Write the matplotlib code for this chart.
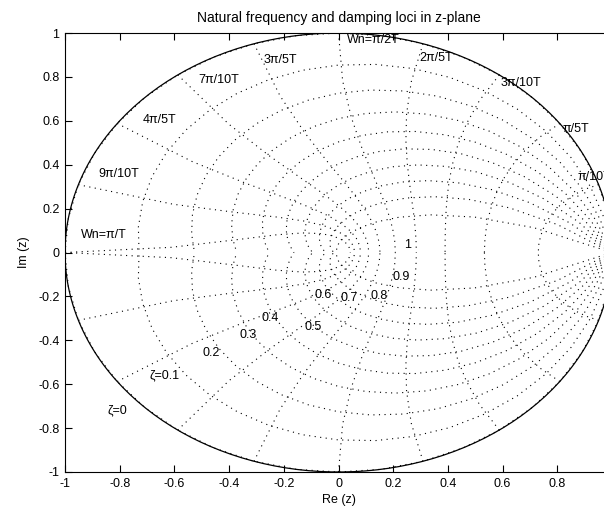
import numpy as np
import matplotlib.pyplot as plt

plt.rcParams['font.family'] = ['Liberation Sans', 'DejaVu Sans']
plt.rcParams['axes.unicode_minus'] = False

# damping ratios and natural frequencies (multiples of pi/T) of the grid
zeta = [0.0, 0.1, 0.2, 0.3, 0.4, 0.5, 0.6, 0.7, 0.8, 0.9]
wn = [0.1, 0.2, 0.3, 0.4, 0.5, 0.6, 0.7, 0.8, 0.9, 1.0]

zeta_labels = ['ζ=0', 'ζ=0.1', '0.2', '0.3', '0.4', '0.5', '0.6', '0.7', '0.8', '0.9', '1']
wn_labels = ['π/10T', 'π/5T', '3π/10T', '2π/5T', 'Wn=π/2T',
             '3π/5T', '7π/10T', '4π/5T', '9π/10T', 'Wn=π/T']

ticks = [-1, -0.8, -0.6, -0.4, -0.2, 0, 0.2, 0.4, 0.6, 0.8, 1]
xtick_labels = ['-1', '-0.8', '-0.6', '-0.4', '-0.2', '0', '0.2', '0.4', '0.6', '0.8', '']
ytick_labels = ['-1', '-0.8', '-0.6', '-0.4', '-0.2', '0', '0.2', '0.4', '0.6', '0.8', '1']

# where the labels sit (data units)
zeta_label_pos = [(-0.807, -0.717), (-0.635, -0.558), (-0.466, -0.458), (-0.33, -0.376),
                  (-0.25, -0.30), (-0.092, -0.34), (-0.055, -0.194), (0.04, -0.207),
                  (0.147, -0.198), (0.231, -0.112), (0.253, 0.034)]
wn_label_pos = [(0.873, 0.344), (0.818, 0.563), (0.593, 0.772), (0.297, 0.886), (0.03, 0.968),
                (-0.275, 0.877), (-0.514, 0.788), (-0.716, 0.604), (-0.877, 0.358), (-0.94, 0.08)]

fig = plt.figure(figsize=(6.04, 5.14), dpi=100)
ax = fig.add_axes([65 / 604, 42 / 514, 547 / 604, 439 / 514])

dot = dict(color='black', lw=0.8, linestyle=(0, (1, 4)))

# damping lines: z = exp(theta*(-m + j)), theta = 0..pi
theta = np.linspace(0, np.pi, 21)
for z in zeta:
    m = np.tan(np.arcsin(z)) + 1e-12
    zz = np.exp(theta * (-m + 1j))
    ax.plot(zz.real, zz.imag, **dot)
    ax.plot(zz.real, -zz.imag, **dot)

# natural frequency lines: z = exp(wn*exp(j*phi)), phi = pi/2..pi
phi = np.linspace(np.pi / 2, np.pi, 11)
for w in wn:
    zz = np.exp(w * np.pi * np.exp(1j * phi))
    ax.plot(zz.real, zz.imag, **dot)
    ax.plot(zz.real, -zz.imag, **dot)

# unit circle
t = np.linspace(0, 2 * np.pi, 300)
ax.plot(np.cos(t), np.sin(t), color='black', lw=0.9)

for lab, (x, y) in zip(zeta_labels, zeta_label_pos):
    ax.text(x, y, lab, fontsize=9, ha='center', va='center')
for lab, (x, y) in zip(wn_labels, wn_label_pos):
    ax.text(x, y, lab, fontsize=9, ha='left', va='center')

ax.set_xlim(-1, 1)
ax.set_ylim(-1, 1)
ax.set_xticks(ticks)
ax.set_xticklabels(xtick_labels)
ax.set_yticks(ticks)
ax.set_yticklabels(ytick_labels)
ax.tick_params(direction='in', top=True, right=True, length=5, width=0.8,
               labelsize=9, pad=4)
for s in ax.spines.values():
    s.set_linewidth(0.8)

ax.set_title('Natural frequency and damping loci in z-plane', fontsize=10, pad=8)
ax.set_xlabel('Re (z)', fontsize=9, labelpad=3)
ax.set_ylabel('Im (z)', fontsize=9, labelpad=6)

fig.savefig('out.png', dpi=100)
